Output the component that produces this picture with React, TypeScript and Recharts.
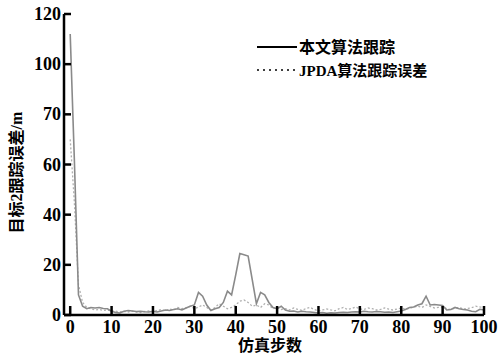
import React from "react";
import { LineChart, Line, XAxis, YAxis } from "recharts";

const proposedError = [
  112, 62, 8, 3.5, 2.5, 3, 2.8, 3, 2.6, 2.5,
  1.5, 1, 0.8, 1.5, 1.8, 1.6, 1.4, 1.5, 1.3, 1.2,
  1.5, 1.2, 1.6, 2, 1.8, 2.2, 2.5, 2, 2.8, 3.5,
  4, 9, 7.5, 4, 1.8, 2.5, 3, 5, 9.5, 8,
  16, 24.5, 24, 23.5, 14, 4.5, 9, 8, 5, 3,
  2.5, 3.5, 2, 1.5, 1.6, 1.2, 1.5, 1.3, 1.2, 1,
  0.8, 1, 0.7, 0.9, 0.8, 1, 1.1, 1, 1.2, 1.3,
  1.2, 1.5, 1.3, 1.2, 1.4, 1.3, 1.1, 1.2, 1.0, 1.3,
  1.6, 2.2, 3, 3.2, 4, 4.5, 7.5, 4, 4.2, 4,
  3.8, 2, 2.2, 3, 2.5, 2.2, 2, 1.5, 1.3, 2.3,
  2,
];

const jpdaError = [
  70, 45, 12, 5, 3, 2.5, 2, 2.2, 1.8, 2,
  1.6, 1.5, 1.2, 1.4, 1.2, 1.5, 1.2, 1, 1.4, 1.6,
  1.2, 1.8, 2.2, 1.6, 2.4, 2, 3, 2.5, 2.8, 3.5,
  2.5, 3.2, 4, 3, 2, 3, 4.5, 3.5, 2.5, 3,
  4, 5.5, 6, 5, 3.5, 4, 3, 4.5, 4, 2.5,
  3, 2.2, 2.5, 2, 2.8, 2.2, 1.8, 2.6, 3, 2.2,
  1.6, 2, 2.4, 2, 1.7, 2.5, 3, 2.2, 2.6, 3.2,
  2.4, 2.2, 2.8, 2.5, 2, 2.2, 2.8, 2.3, 2, 2.4,
  2.8, 2.4, 2.6, 3.2, 3.5, 3, 4, 3.4, 2.8, 3,
  3.2, 2.5, 2.2, 2.8, 3, 2.4, 2.6, 2.9, 3.5, 3.2,
  3,
];

const xTicks = [0, 10, 20, 30, 40, 50, 60, 70, 80, 90, 100];
const yTicks = [0, 20, 40, 60, 80, 100, 120];
const yTickLabels = ["0", "20", "40", "60", "70", "100", "120"];

const seriesNames = ["本文算法跟踪", "JPDA算法跟踪误差"];
const xTitle = "仿真步数";
const yTitle = "目标2跟踪误差/m";

const data = proposedError.map((v, i) => ({
  step: i,
  proposed: v,
  jpda: jpdaError[i],
}));

const FONT = "'Liberation Serif', 'Noto Sans CJK SC', serif";

const XTick = (props: any) => {
  const { x, y, payload } = props;
  return (
    <g>
      <line x1={x} y1={y} x2={x} y2={y - 9} stroke="#000" strokeWidth={2.5} />
      <text
        x={x}
        y={y + 18}
        textAnchor="middle"
        fontFamily={FONT}
        fontWeight="bold"
        fontSize={18}
        fill="#000"
      >
        {payload.value}
      </text>
    </g>
  );
};

const YTick = (props: any) => {
  const { x, y, payload } = props;
  const idx = yTicks.indexOf(payload.value);
  return (
    <g>
      <line x1={x} y1={y} x2={x + 7} y2={y} stroke="#000" strokeWidth={2.5} />
      <text
        x={x - 3}
        y={y + 6}
        textAnchor="end"
        fontFamily={FONT}
        fontWeight="bold"
        fontSize={18}
        fill="#000"
      >
        {idx >= 0 ? yTickLabels[idx] : payload.value}
      </text>
    </g>
  );
};

const LegendBox = () => (
  <svg width={200} height={45} style={{ position: "absolute", left: 255, top: 37 }}>
    <line x1={2} y1={10} x2={42} y2={10} stroke="#000" strokeWidth={2} />
    <text x={44} y={16} fontFamily={FONT} fontWeight="bold" fontSize={16} fill="#000">
      {seriesNames[0]}
    </text>
    <line x1={2} y1={33} x2={42} y2={33} stroke="#000" strokeWidth={1.5} strokeDasharray="2 4" />
    <text x={44} y={39} fontFamily={FONT} fontWeight="bold" fontSize={15} fill="#000">
      {seriesNames[1]}
    </text>
  </svg>
);

const YLabel = (props: any) => {
  const { viewBox } = props;
  const cx = viewBox.x + 16;
  const cy = viewBox.y + viewBox.height / 2 + 8;
  return (
    <text
      x={cx}
      y={cy}
      transform={`rotate(-90, ${cx}, ${cy})`}
      textAnchor="middle"
      dominantBaseline="central"
      fontFamily={FONT}
      fontWeight="bold"
      fontSize={16}
      fill="#000"
    >
      {yTitle}
    </text>
  );
};

const XLabel = (props: any) => {
  const { viewBox } = props;
  const cx = viewBox.x + viewBox.width / 2 - 4;
  return (
    <text
      x={cx}
      y={viewBox.y + 36}
      textAnchor="middle"
      fontFamily={FONT}
      fontWeight="bold"
      fontSize={16}
      fill="#000"
    >
      {xTitle}
    </text>
  );
};

export default function App() {
  return (
    <div style={{ position: "absolute", left: 0, top: 0, width: 500, height: 353, background: "#fff" }}>
      <LineChart
        width={500}
        height={353}
        data={data}
        margin={{ top: 14, right: 16, bottom: 0, left: 0 }}
      >
        <XAxis
          dataKey="step"
          type="number"
          domain={[-1.5, 100]}
          ticks={xTicks}
          interval={0}
          allowDataOverflow
          height={38}
          tickSize={0}
          tickMargin={0}
          tick={<XTick />}
          tickLine={false}
          axisLine={{ stroke: "#000", strokeWidth: 2.5 }}
          label={<XLabel />}
        />
        <YAxis
          type="number"
          domain={[0, 120]}
          ticks={yTicks}
          interval={0}
          width={64}
          tickSize={0}
          tickMargin={0}
          tick={<YTick />}
          tickLine={false}
          axisLine={{ stroke: "#000", strokeWidth: 2.5 }}
          label={<YLabel />}
        />
        <Line
          type="linear"
          dataKey="jpda"
          stroke="#b0b0b0"
          strokeWidth={1.3}
          strokeDasharray="2 2"
          dot={false}
          isAnimationActive={false}
        />
        <Line
          type="linear"
          dataKey="proposed"
          stroke="#8a8a8a"
          strokeWidth={1.6}
          dot={false}
          isAnimationActive={false}
        />
      </LineChart>
      <LegendBox />
    </div>
  );
}
